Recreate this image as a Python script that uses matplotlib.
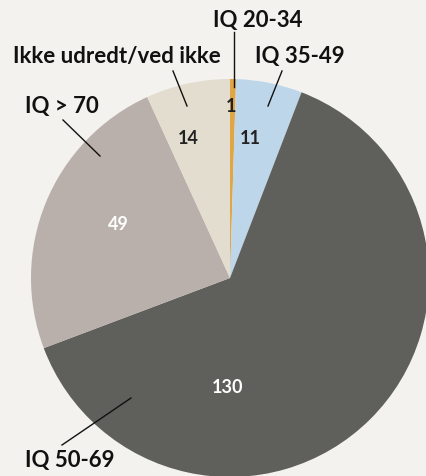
import matplotlib
matplotlib.use("Agg")
import matplotlib.pyplot as plt

categories = ["IQ 20-34", "IQ 35-49", "IQ 50-69", "IQ > 70", "Ikke udredt/ved ikke"]
values = [1, 11, 130, 49, 14]
colors = ["#E0A645", "#BDD6EA", "#5F605B", "#B9AFAB", "#E3DDCF"]
value_colors = ["#222222", "#222222", "#FFFFFF", "#FFFFFF", "#222222"]

W, H = 427, 477
CX, CY, R = 230, 279, 199
BG = "#F3F2EE"

fig = plt.figure(figsize=(W / 100, H / 100), dpi=100, facecolor=BG)
ax = fig.add_axes([0, 0, 1, 1])
ax.set_facecolor(BG)
ax.axis("off")

ax.pie(values, colors=colors, startangle=90, counterclock=False, radius=1,
       center=(0, 0), wedgeprops=dict(linewidth=0))
ax.set_aspect("equal")
ax.set_xlim(-CX / R, (W - CX) / R)
ax.set_ylim(-(H - CY) / R, CY / R)


def P(x, y):
    return ((x - CX) / R, (CY - y) / R)


font = dict(family=["Lato", "DejaVu Sans"], fontweight="bold")

# value labels (pixel positions)
value_pos = [(231, 106), (250, 138), (228, 388), (118, 225), (188, 138)]
for v, (px, py), c in zip(values, value_pos, value_colors):
    ax.text(*P(px, py), str(v), ha="center", va="center", fontsize=13, color=c, **font)

# category labels and leader lines
label_pos = [(258, 20), (300, 57), (70, 461), (62, 106), (117, 57)]
lines = [((234, 33), (234, 88)), ((282, 72), (268, 107)), ((62, 446), (131, 399)),
         ((63, 121), (100, 157)), ((173, 72), (187, 107))]
for cat, (px, py), (a, b) in zip(categories, label_pos, lines):
    ax.text(*P(px, py), cat, ha="center", va="center", fontsize=16, color="#111111", **font)
    p1, p2 = P(*a), P(*b)
    ax.plot([p1[0], p2[0]], [p1[1], p2[1]], color="#111111", lw=1)

fig.savefig("out.png", dpi=100, facecolor=BG)
